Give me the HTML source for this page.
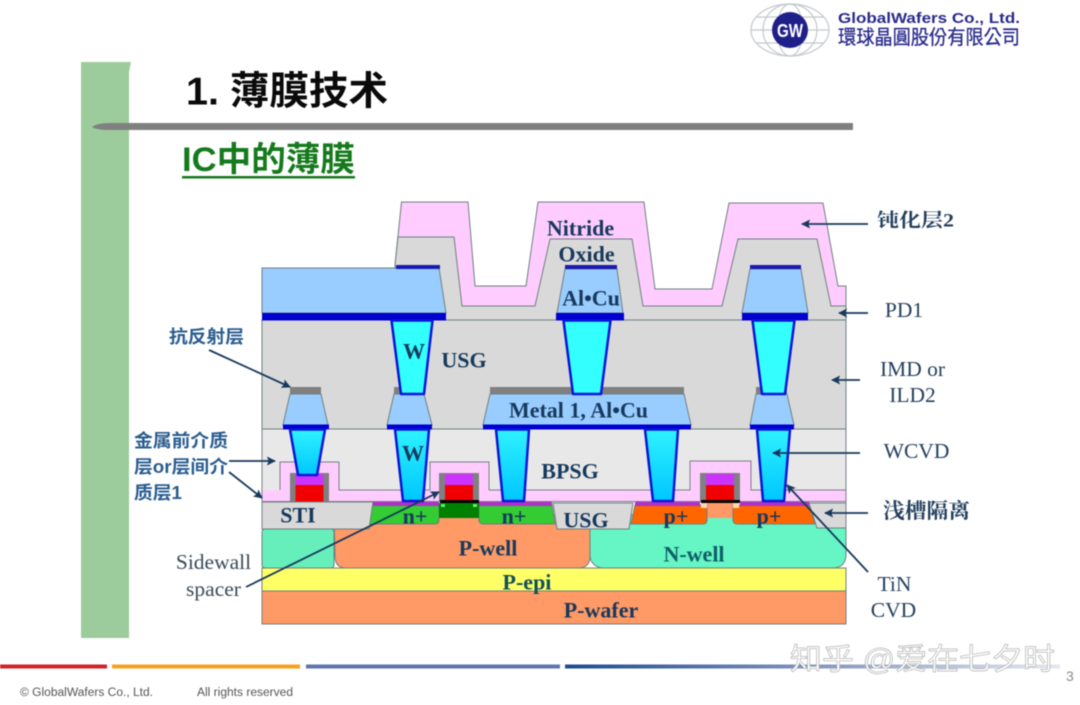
<!DOCTYPE html>
<html><head><meta charset="utf-8"><style>
html,body{margin:0;padding:0;background:#fff;width:1080px;height:705px;overflow:hidden}
svg{display:block;filter:blur(.45px)}
.s{font-family:"Liberation Serif","Noto Serif CJK SC",serif;font-weight:bold;fill:#17395c;text-anchor:middle;dominant-baseline:central}
.r{font-family:"Liberation Serif","Noto Serif CJK SC",serif;fill:#24405f;text-anchor:middle;dominant-baseline:central;font-size:21.5px}
.c{font-family:"Liberation Sans","Noto Sans CJK SC",sans-serif;font-weight:bold;fill:#2a5c8f;font-size:18px;dominant-baseline:central}
.e{stroke:#6f7f80;stroke-width:1}
</style></head><body>
<svg width="1080" height="705" viewBox="0 0 1080 705" xmlns="http://www.w3.org/2000/svg">
<defs>
<marker id="a" viewBox="0 0 10 10" refX="9" refY="5" markerWidth="11" markerHeight="9" markerUnits="userSpaceOnUse" orient="auto"><path d="M0 0L10 5L0 10L2 5Z" fill="#17395c"/></marker>
<linearGradient id="g" x1="0" x2="1"><stop offset="0" stop-color="#1c4a94"/><stop offset=".4" stop-color="#6f84b5"/><stop offset="1" stop-color="#e4e7ef"/></linearGradient>
<linearGradient id="v" x1="0" x2="0" y1="0" y2="1"><stop offset="0" stop-color="#2ff2ff"/><stop offset="1" stop-color="#00c6ff"/></linearGradient>
</defs>
<rect width="1080" height="705" fill="#fff"/>

<!-- slide frame -->
<path d="M81 62H131L129 72V638H81Z" fill="#9ccc9c"/>
<path d="M92 127Q97 123 110 123H853V130H110Q97 130 92 127Z" fill="#808080"/>
<text x="186" y="92" font-family="'Liberation Sans','Noto Sans CJK SC',sans-serif" font-weight="bold" font-size="39" fill="#0a0a0a" dominant-baseline="central" textLength="202" lengthAdjust="spacingAndGlyphs">1. 薄膜技术</text>
<text x="182" y="160" font-family="'Liberation Sans','Noto Sans CJK SC',sans-serif" font-weight="bold" font-size="34" fill="#157a1c" dominant-baseline="central" textLength="173" lengthAdjust="spacingAndGlyphs">IC中的薄膜</text>
<rect x="182" y="176" width="173" height="2.5" fill="#157a1c"/>

<!-- logo -->
<g fill="none" stroke="#c4c8cc" stroke-width="1.2">
<ellipse cx="790" cy="30" rx="39" ry="26"/><ellipse cx="790" cy="30" rx="27" ry="26"/><ellipse cx="790" cy="30" rx="13" ry="26"/>
<path d="M751 30H829M756 17H824M756 43H824"/>
</g>
<circle cx="790" cy="30" r="18" fill="#1f1f8a"/>
<text x="790" y="31" font-family="'Liberation Sans',sans-serif" font-weight="bold" font-size="18" fill="#fff" text-anchor="middle" dominant-baseline="central" textLength="26" lengthAdjust="spacingAndGlyphs">GW</text>
<text x="838" y="19" font-family="'Liberation Sans',sans-serif" font-weight="bold" font-size="14.500" fill="#2a2a8c" dominant-baseline="central" textLength="182" lengthAdjust="spacingAndGlyphs">GlobalWafers Co., Ltd.</text>
<text x="838" y="38" font-family="'Liberation Sans','Noto Sans CJK TC',sans-serif" font-size="20" fill="#2a2a8c" stroke="#2a2a8c" stroke-width=".3" dominant-baseline="central" textLength="182" lengthAdjust="spacingAndGlyphs">環球晶圓股份有限公司</text>

<!-- base layers -->
<rect x="262" y="591" width="584" height="33" fill="#ff9966" class="e"/>
<rect x="262" y="568" width="584" height="23" fill="#ffff66" class="e"/>
<rect x="262" y="529" width="72" height="39" rx="3" fill="#66eebb" class="e"/>
<path d="M334 515H600V529H590V558Q589 568 578 568H346Q335 568 335 556Z" fill="#ff9966" class="e"/>
<path d="M590 515H846V556Q845 568 832 568H602Q591 566 590 556Z" fill="#66f5c4" class="e"/>
<rect x="707" y="503" width="26" height="15" fill="#ff9966"/>

<!-- silicon features -->
<path d="M373 505H439V520Q439 524 435 524H366L369 516Z" fill="#33cc33" class="e"/>
<path d="M479 505H552L555 524H484Q479 524 479 520Z" fill="#33cc33" class="e"/>
<path d="M635 505H707V520Q707 524 703 524H631Z" fill="#ff6600" class="e"/>
<path d="M733 505H809L815 524H738Q733 524 733 520Z" fill="#ff6600" class="e"/>
<rect x="439" y="503" width="40" height="15" fill="#008000"/>
<rect x="441" y="504" width="4" height="3" fill="#66ee66"/><rect x="473" y="504" width="4" height="3" fill="#66ee66"/>
<rect x="701" y="502" width="6" height="6" fill="#ffd9b3"/><rect x="733" y="502" width="6" height="6" fill="#ffd9b3"/>
<path d="M262 502H373L369 529H262Z" fill="#d9d9d9" class="e"/>
<path d="M553 503H633L629 529H557Z" fill="#d9d9d9" class="e"/>
<path d="M809 503H846V528H817Z" fill="#d9d9d9" class="e"/>
<rect x="373" y="501" width="66" height="5" fill="#b030c8"/><rect x="479" y="501" width="73" height="5" fill="#b030c8"/>
<rect x="635" y="501" width="65" height="5" fill="#b030c8"/><rect x="740" y="501" width="69" height="5" fill="#b030c8"/>

<!-- BPSG and liner -->
<rect x="262" y="429" width="584" height="61" fill="#e8e8e8"/>
<path d="M262 490H280V462H339V490H430V462H489V490H690V461H751V490H846V501.5H262Z" fill="#ffccff"/>
<path d="M280 490V462H339V490H430V462H489V490H690V461H751V490H846" fill="none" stroke="#7a7f88" stroke-width="1"/>
<path d="M262 501.5H846M262 429V529M846 429V529" stroke="#7a7f88" stroke-width="1" fill="none"/>

<!-- gates -->
<g>
<rect x="290" y="473" width="39" height="28.5" fill="#808080"/><rect x="295.500" y="474" width="28" height="11" fill="#cc33ff"/><rect x="295.500" y="485" width="28" height="16.500" fill="#f00000"/>
<rect x="439" y="473" width="40" height="28" fill="#808080"/><rect x="445" y="474" width="28" height="11" fill="#cc33ff"/><rect x="445" y="485" width="28" height="15" fill="#f00000"/><rect x="440" y="500" width="39" height="3" fill="#000"/>
<rect x="700" y="473" width="40" height="28" fill="#808080"/><rect x="706" y="474" width="28" height="11" fill="#cc33ff"/><rect x="706" y="485" width="28" height="15" fill="#f00000"/><rect x="701" y="500" width="39" height="3" fill="#000"/>
</g>

<!-- IMD -->
<rect x="262" y="320" width="584" height="109" fill="#d9d9d9" class="e"/>

<!-- passivation -->
<path d="M395 265L401.500 202H468L475 286H526L538 202H644L655 289H712L729 203H823L838 286H846V320H395Z" fill="#ffccff" class="e"/>
<path d="M395 265L398 237H454L462 306H535L550 239H632L643 306H722L738 239H817L831 306H846V320H395Z" fill="#d9d9d9" class="e"/>

<!-- metal 2 -->
<path d="M262 268H439L446 313H262Z" fill="#99ccff" class="e"/>
<rect x="396" y="265" width="44" height="4" fill="#1a1ab0"/>
<rect x="262" y="313" width="184" height="7.500" fill="#0000d0"/>
<path d="M565 269H617L623 313H557Z" fill="#99ccff" class="e"/>
<rect x="565" y="265" width="52" height="4" fill="#1a1ab0"/>
<rect x="556" y="313" width="68" height="7.500" fill="#0000d0"/>
<path d="M750 269H801L808 313H742Z" fill="#99ccff" class="e"/>
<rect x="750" y="265" width="51" height="4" fill="#1a1ab0"/>
<rect x="742" y="313" width="66" height="7.500" fill="#0000d0"/>

<!-- metal 1 -->
<rect x="290" y="387" width="31" height="7" fill="#808080"/>
<path d="M290 394H321L328 425H283Z" fill="#99ccff" class="e"/>
<rect x="283" y="424.500" width="46" height="5" fill="#0000d0"/>
<rect x="394" y="387" width="31" height="7" fill="#808080"/>
<path d="M394 394H424L432 425H387Z" fill="#99ccff" class="e"/>
<rect x="387" y="424.500" width="45" height="5" fill="#0000d0"/>
<rect x="490" y="387" width="194" height="7" fill="#808080"/>
<path d="M490 394H684L691 425H483Z" fill="#99ccff" class="e"/>
<rect x="483" y="424.500" width="208" height="5" fill="#0000d0"/>
<rect x="756" y="387" width="31" height="7" fill="#808080"/>
<path d="M756 394H787L794 425H750Z" fill="#99ccff" class="e"/>
<rect x="750" y="424.500" width="44" height="5" fill="#0000d0"/>

<!-- vias -->
<g stroke="#0a14d8" stroke-width="2.500" stroke-linejoin="round">
<path d="M391.500 320.500H432.500L424 394H401Z" fill="#33ffff"/>
<path d="M563.500 320.500H610.500L601 394H573Z" fill="#33ffff"/>
<path d="M752.500 320.500H794.500L785 394H762Z" fill="#33ffff"/>
<path d="M290 429.500H325L317 475H298Z" fill="url(#v)"/>
<path d="M395 429.500H429L423 501H403Z" fill="url(#v)"/>
<path d="M496 429.500H529L524 501H503Z" fill="url(#v)"/>
<path d="M645 429.500H678L673 501H653Z" fill="url(#v)"/>
<path d="M757 429.500H790L784 501H763Z" fill="url(#v)"/>
</g>

<!-- labels in diagram -->
<g class="s">
<text class="s" x="580.500" y="228" font-size="22">Nitride</text>
<text class="s" x="586.500" y="254" font-size="22">Oxide</text>
<text class="s" x="591" y="298" font-size="22">Al•Cu</text>
<text class="s" x="414" y="351" font-size="22">W</text>
<text class="s" x="464" y="360" font-size="22">USG</text>
<text class="s" x="578.500" y="410" font-size="22">Metal 1, Al•Cu</text>
<text class="s" x="413" y="453" font-size="22">W</text>
<text class="s" x="570" y="471" font-size="22">BPSG</text>
<text class="s" x="298" y="515" font-size="22">STI</text>
<text class="s" x="415" y="516" font-size="22">n+</text>
<text class="s" x="514" y="516" font-size="22">n+</text>
<text class="s" x="586" y="520" font-size="22">USG</text>
<text class="s" x="676" y="516" font-size="22">p+</text>
<text class="s" x="769" y="516" font-size="22">p+</text>
<text class="s" x="488" y="548" font-size="22">P-well</text>
<text class="s" x="694" y="554" font-size="22" style="fill:#0f5f66">N-well</text>
<text class="s" x="527" y="582" font-size="22" style="fill:#10505a">P-epi</text>
<text class="s" x="601" y="610" font-size="22">P-wafer</text>
</g>

<!-- arrows -->
<g stroke="#17395c" stroke-width="1.800" fill="none">
<path d="M868 224H802" marker-end="url(#a)"/>
<path d="M868 313H839" marker-end="url(#a)"/>
<path d="M860 380H832" marker-end="url(#a)"/>
<path d="M860 453H773" marker-end="url(#a)"/>
<path d="M868 513H825" marker-end="url(#a)"/>
<path d="M868 572L787 485" marker-end="url(#a)"/>
<path d="M209 350L290 387" marker-end="url(#a)"/>
<path d="M229 461H275" marker-end="url(#a)"/>
<path d="M229 472L262 498" marker-end="url(#a)"/>
<path d="M246 587L439 492" marker-end="url(#a)"/>
</g>

<!-- outer labels -->
<text x="877" y="221" font-family="'Liberation Serif','Noto Serif CJK SC',serif" font-weight="bold" font-size="19" fill="#24405f" dominant-baseline="central" textLength="77" lengthAdjust="spacingAndGlyphs">钝化层2</text>
<text class="r" x="904" y="310">PD1</text>
<text class="r" x="912.500" y="369">IMD or</text>
<text class="r" x="912.500" y="395">ILD2</text>
<text class="r" x="916.500" y="451">WCVD</text>
<text x="883" y="511" font-family="'Liberation Serif','Noto Serif CJK SC',serif" font-weight="bold" font-size="21" fill="#24405f" dominant-baseline="central" textLength="87" lengthAdjust="spacingAndGlyphs">浅槽隔离</text>
<text class="r" x="894.500" y="584">TiN</text>
<text class="r" x="893.500" y="610">CVD</text>
<text class="r" x="213.500" y="562" style="fill:#3a4a5a">Sidewall</text>
<text class="r" x="213.500" y="589" style="fill:#3a4a5a">spacer</text>
<text class="c" x="169" y="337" textLength="75" lengthAdjust="spacingAndGlyphs">抗反射层</text>
<text class="c" x="134" y="441" textLength="94" lengthAdjust="spacingAndGlyphs">金属前介质</text>
<text class="c" x="134" y="467" textLength="94" lengthAdjust="spacingAndGlyphs">层or层间介</text>
<text class="c" x="134" y="493" textLength="48" lengthAdjust="spacingAndGlyphs">质层1</text>

<!-- footer -->
<rect x="0" y="664.500" width="107" height="4" fill="#d2232a"/>
<rect x="112" y="664.500" width="188" height="4" fill="#f5a11c"/>
<rect x="306" y="664.500" width="254" height="4" fill="#5f75b0"/>
<rect x="565" y="664.500" width="495" height="4" fill="url(#g)"/>
<text x="790" y="660" font-family="'Liberation Sans','Noto Sans CJK SC',sans-serif" font-size="30" fill="#fff" stroke="#b5b5b5" stroke-width=".7" dominant-baseline="central" textLength="265" lengthAdjust="spacingAndGlyphs">知乎 @爱在七夕时</text>
<text x="1066" y="676" font-family="'Liberation Sans',sans-serif" font-size="14" fill="#8a8a8a" dominant-baseline="central">3</text>
<text x="20" y="693" font-family="'Liberation Sans',sans-serif" font-size="11.500" fill="#555" dominant-baseline="central" textLength="133" lengthAdjust="spacingAndGlyphs">© GlobalWafers Co., Ltd.</text>
<text x="197" y="693" font-family="'Liberation Sans',sans-serif" font-size="11.500" fill="#555" dominant-baseline="central" textLength="96" lengthAdjust="spacingAndGlyphs">All rights reserved</text>
</svg>
</body></html>
